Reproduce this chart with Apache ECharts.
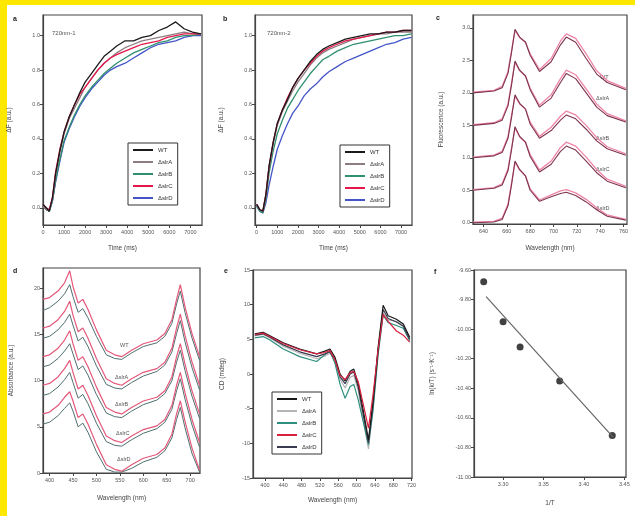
<!DOCTYPE html>
<html><head><meta charset="utf-8">
<script src="https://cdn.jsdelivr.net/npm/echarts@6/dist/echarts.min.js"></script>
<style>html,body{margin:0;padding:0;background:#fff}#c{width:635px;height:516px}</style>
</head><body><div id="c"></div><script>
// ---------- DATA ----------
const names = ['WT', 'ΔslrA', 'ΔslrB', 'ΔslrC', 'ΔslrD'];
// panel a / b : time courses
const timeA = [0,150,300,450,600,800,1000,1250,1500,1750,2000,2300,2600,2900,3200,3500,3900,4300,4700,5100,5500,5900,6300,6700,7100,7500];
const a_WT = [0.02,0.00,-0.02,0.06,0.20,0.33,0.44,0.53,0.60,0.67,0.73,0.78,0.83,0.88,0.91,0.94,0.97,0.97,0.99,1.00,1.03,1.05,1.08,1.04,1.02,1.01];
const a_S1 = [0.01,-0.01,-0.02,0.05,0.19,0.32,0.43,0.52,0.58,0.64,0.70,0.75,0.80,0.84,0.87,0.90,0.93,0.95,0.97,0.98,0.99,1.00,1.01,1.02,1.01,1.01];
const a_S2 = [0.01,-0.01,-0.02,0.04,0.16,0.28,0.39,0.47,0.54,0.60,0.65,0.70,0.74,0.78,0.81,0.84,0.87,0.90,0.92,0.94,0.96,0.97,0.99,1.00,1.00,1.01];
const a_S3 = [0.02,0.00,-0.01,0.06,0.21,0.34,0.44,0.53,0.60,0.66,0.70,0.75,0.80,0.84,0.87,0.89,0.91,0.93,0.95,0.96,0.97,0.99,1.00,1.01,1.01,1.01];
const a_S4 = [0.01,-0.01,-0.02,0.04,0.15,0.27,0.38,0.46,0.53,0.59,0.64,0.69,0.73,0.77,0.80,0.82,0.84,0.87,0.90,0.93,0.95,0.96,0.97,0.99,1.00,1.00];
const b_WT = [0.02,-0.01,-0.02,0.08,0.24,0.38,0.49,0.57,0.63,0.70,0.75,0.80,0.85,0.89,0.92,0.94,0.96,0.98,0.99,1.00,1.01,1.01,1.02,1.02,1.03,1.03];
const b_S1 = [0.02,-0.01,-0.02,0.07,0.23,0.37,0.48,0.56,0.62,0.68,0.73,0.78,0.83,0.87,0.90,0.92,0.94,0.96,0.98,0.99,1.00,1.01,1.01,1.02,1.02,1.02];
const b_S2 = [0.01,-0.02,-0.03,0.05,0.20,0.33,0.43,0.51,0.58,0.63,0.68,0.73,0.78,0.82,0.86,0.88,0.91,0.93,0.95,0.96,0.97,0.98,0.99,1.00,1.00,1.01];
const b_S3 = [0.02,-0.01,-0.02,0.08,0.24,0.38,0.49,0.57,0.64,0.70,0.75,0.80,0.84,0.88,0.91,0.93,0.95,0.97,0.98,0.99,1.00,1.01,1.02,1.02,1.03,1.03];
const b_S4 = [0.01,-0.02,-0.03,0.03,0.13,0.24,0.34,0.42,0.49,0.55,0.59,0.65,0.69,0.72,0.76,0.79,0.82,0.85,0.87,0.89,0.91,0.93,0.95,0.96,0.98,0.99];
const timeTicks = [0,1000,2000,3000,4000,5000,6000,7000];
const abTicksY = [0.0,0.2,0.4,0.6,0.8,1.0];

// panel c : fluorescence emission (stacked)
const wlC = [631,649,656,661,664,667,671,676,680,688,698,706,711,719,728,737,746,762];
const c1d = [2.00,2.03,2.08,2.30,2.62,2.98,2.86,2.78,2.58,2.33,2.48,2.74,2.86,2.78,2.53,2.29,2.16,2.05];
const c1p = [2.01,2.04,2.10,2.33,2.65,2.96,2.85,2.78,2.60,2.36,2.53,2.80,2.91,2.84,2.60,2.34,2.19,2.07];
const c2d = [1.50,1.53,1.58,1.80,2.12,2.49,2.35,2.26,2.05,1.78,1.92,2.16,2.30,2.22,2.00,1.78,1.65,1.55];
const c2p = [1.51,1.54,1.60,1.83,2.15,2.47,2.34,2.26,2.07,1.81,1.97,2.22,2.35,2.28,2.06,1.83,1.68,1.57];
const c3d = [1.00,1.03,1.08,1.30,1.62,1.97,1.84,1.75,1.52,1.30,1.42,1.58,1.66,1.60,1.44,1.26,1.14,1.04];
const c3p = [1.01,1.04,1.10,1.33,1.65,1.95,1.83,1.75,1.55,1.33,1.47,1.64,1.72,1.66,1.50,1.31,1.17,1.06];
const c4d = [0.50,0.53,0.58,0.80,1.12,1.48,1.33,1.24,1.02,0.78,0.90,1.10,1.18,1.12,0.95,0.77,0.64,0.54];
const c4p = [0.51,0.54,0.60,0.83,1.15,1.46,1.32,1.24,1.05,0.81,0.95,1.16,1.24,1.18,1.01,0.82,0.67,0.56];
const c5d = [0.00,0.01,0.05,0.26,0.58,0.95,0.82,0.72,0.50,0.33,0.40,0.45,0.47,0.42,0.32,0.20,0.10,0.04];
const c5p = [0.01,0.02,0.07,0.29,0.61,0.93,0.81,0.72,0.52,0.35,0.43,0.49,0.51,0.46,0.36,0.23,0.12,0.05];
const cTicksX = [640,660,680,700,720,740,760];
const cTicksY = [0.0,0.5,1.0,1.5,2.0,2.5,3.0];

// panel d : absorbance (stacked)
const wlD = [386,400,418,432,443,450,461,471,482,500,521,539,554,575,600,629,646,661,671,679,689,704,720];
const d1p = [18.8,19.0,19.7,20.6,21.9,20.2,18.4,18.8,17.7,15.5,13.3,12.8,12.6,13.3,14.0,14.4,15.1,16.6,18.8,20.4,18.0,15.1,12.6];
const d1d = [17.6,17.9,18.6,19.4,20.4,19.1,17.4,17.8,16.8,14.8,12.8,12.4,12.3,13.0,13.7,14.1,14.8,16.2,18.3,19.7,17.4,14.6,12.2];
const d2p = [15.7,15.9,16.6,17.5,18.6,17.1,15.3,15.7,14.6,12.4,10.2,9.7,9.5,10.2,10.9,11.3,12.0,13.5,15.7,17.2,14.9,12.0,9.5];
const d2d = [14.6,14.8,15.5,16.3,17.2,16.0,14.3,14.7,13.7,11.6,9.6,9.2,9.1,9.8,10.5,11.0,11.7,13.1,15.1,16.5,14.2,11.4,9.0];
const d3p = [12.6,12.8,13.5,14.4,15.4,14.0,12.2,12.6,11.5,9.3,7.1,6.6,6.4,7.1,7.8,8.2,8.9,10.4,12.6,14.0,11.8,8.9,6.4];
const d3d = [11.5,11.7,12.4,13.2,14.0,12.9,11.2,11.6,10.6,8.5,6.5,6.1,6.0,6.7,7.4,7.9,8.6,10.0,12.0,13.3,11.1,8.3,5.9];
const d4p = [9.5,9.7,10.4,11.3,12.2,10.9,9.1,9.5,8.4,6.2,4.0,3.5,3.3,4.0,4.7,5.1,5.8,7.3,9.5,10.9,8.7,5.8,3.3];
const d4d = [8.4,8.6,9.3,10.1,10.9,9.8,8.1,8.5,7.5,5.4,3.4,3.0,2.9,3.6,4.3,4.8,5.5,6.9,8.9,10.2,8.0,5.2,2.8];
const d5p = [6.4,6.6,7.3,8.2,8.8,7.8,6.0,6.4,5.3,3.1,0.9,0.4,0.2,0.9,1.6,2.0,2.7,4.2,6.4,7.8,5.6,2.7,0.3];
const d5d = [5.3,5.5,6.2,7.0,7.6,6.7,5.0,5.4,4.4,2.3,0.4,0.1,0.1,0.5,1.2,1.7,2.4,3.8,5.8,7.1,4.9,2.1,0.1];
const dTicksX = [400,450,500,550,600,650,700];
const dTicksY = [0,5,10,15,20];

// panel e : CD spectra
const wlE = [378,396,411,440,476,513,531,542,553,564,575,586,594,604,615,626,636,647,658,669,687,702,716];
const e_WT = [5.8,6.0,5.5,4.5,3.6,2.9,3.3,3.6,2.4,0.0,-1.0,0.4,0.7,-1.5,-5.4,-9.5,-3.9,3.8,9.9,8.4,7.9,7.2,5.3];
const e_S1 = [5.5,5.7,5.2,4.0,3.0,2.2,2.6,3.0,1.8,-0.8,-2.0,-0.5,-0.2,-2.5,-6.8,-10.8,-5.0,3.0,8.8,7.8,7.6,7.0,5.0];
const e_S2 = [5.2,5.4,4.9,3.6,2.5,1.8,2.8,3.3,1.5,-1.5,-3.5,-1.8,-1.5,-3.8,-7.0,-10.2,-5.2,2.8,8.5,7.4,7.0,6.6,4.8];
const e_S3 = [5.7,5.9,5.4,4.4,3.5,2.9,3.1,3.4,2.0,-0.2,-0.8,0.2,0.4,-1.2,-4.5,-7.8,-3.0,3.5,8.6,7.6,6.2,5.6,4.6];
const e_S4 = [5.6,5.8,5.3,4.2,3.2,2.5,2.9,3.2,2.1,-0.4,-1.4,0.0,0.3,-2.0,-6.0,-9.9,-4.4,3.4,9.3,8.0,7.5,6.9,5.0];
const eTicksX = [400,440,480,520,560,600,640,680,720];
const eTicksY = [-15,-10,-5,0,5,10,15];

// panel f : Arrhenius-type plot
const fX = [3.276,3.300,3.321,3.370,3.435];
const fY = [-9.68,-9.95,-10.12,-10.35,-10.72];
const fitX = [3.279,3.436];
const fitY = [-9.78,-10.73];
const fTicksX = [3.30,3.35,3.40,3.45];
const fTicksY = [-9.6,-9.8,-10.0,-10.2,-10.4,-10.6,-10.8,-11.0];

// ---------- STYLE ----------
const colAB = ['#1a1a1a','#8c7d80','#2f8f6f','#e3174a','#4455c8'];
const colE  = ['#1a1a1a','#b5b5b5','#2f8f7f','#d8203f','#3a3a50'];
const pinkC = '#ee86a4', darkC = '#7e3550';
const pinkD = '#e4587a', darkD = '#4f6f70';
const axCol = '#444', lblCol = '#555';

const zip = (xs, ys) => xs.map((x, i) => [x, ys[i]]);

function mkX(gi, min, max, ticks, name, gap, fmt) {
  return {type:'value', gridIndex:gi, min, max, name, nameLocation:'middle', nameGap:gap,
    nameTextStyle:{fontSize:6.5, color:axCol},
    axisLine:{show:true, onZero:false, lineStyle:{color:axCol, width:1.2}},
    axisTick:{show:true, customValues:ticks, length:3, lineStyle:{color:axCol}},
    axisLabel:{customValues:ticks, fontSize:5.5, color:lblCol, margin:4, formatter:fmt},
    splitLine:{show:false}};
}
function mkY(gi, min, max, ticks, name, gap, fmt) {
  const o = mkX(gi, min, max, ticks, name, gap, fmt);
  o.axisLabel.margin = 3;
  return o;
}
function gridAt(l, t, r, b) {
  return {left:l, top:t, width:r - l, height:b - t, show:true, borderColor:axCol, borderWidth:1.2, backgroundColor:'transparent'};
}
function line(gi, xs, ys, name, color, w) {
  return {type:'line', name, xAxisIndex:gi, yAxisIndex:gi, data:zip(xs, ys), symbol:'none',
    lineStyle:{color, width:w || 1.3}, itemStyle:{color}, silent:true, animation:false};
}
function legendAt(left, top, cols) {
  return {left, top, orient:'vertical', icon:'rect', itemWidth:20, itemHeight:2, itemGap:6,
    padding:[4,5,4,5], borderColor:'#333', borderWidth:1, backgroundColor:'#fff',
    textStyle:{fontSize:6, color:'#333'},
    data:names.map((n, i) => ({name:n, itemStyle:{color:cols[i]}})),
    selectedMode:false};
}
const f1 = v => v.toFixed(1), f2 = v => v.toFixed(2), f0 = v => String(v);

const grids = [
  gridAt(43, 15, 202, 225),   // a
  gridAt(255, 15, 412, 225),  // b
  gridAt(473, 15, 627, 224),  // c
  gridAt(43, 268, 200, 473),  // d
  gridAt(253, 270, 412, 478), // e
  gridAt(474, 270, 626, 477)  // f
];

const xAxes = [
  mkX(0, 0, 7550, timeTicks, 'Time (ms)', 20, f0),
  mkX(1, -80, 7530, timeTicks, 'Time (ms)', 20, f0),
  mkX(2, 631, 763, cTicksX, 'Wavelength (nm)', 21, f0),
  mkX(3, 386, 721, dTicksX, 'Wavelength (nm)', 22, f0),
  mkX(4, 374, 721, eTicksX, 'Wavelength (nm)', 19, f0),
  mkX(5, 3.264, 3.452, fTicksX, '1/T', 23, f2)
];
const yAxes = [
  mkY(0, -0.1, 1.12, abTicksY, 'ΔF (a.u.)', 30, f1),
  mkY(1, -0.1, 1.12, abTicksY, 'ΔF (a.u.)', 30, f1),
  mkY(2, -0.02, 3.2, cTicksY, 'Fluorescence (a.u.)', 28, f1),
  mkY(3, 0, 22.2, dTicksY, 'Absorbance (a.u.)', 28, f0),
  mkY(4, -15, 15, eTicksY, 'CD (mdeg)', 27, f0),
  mkY(5, -11.0, -9.6, fTicksY, 'ln(k/T) (s⁻¹·K⁻¹)', 38, f2)
];

const series = [];
const aSets = [a_WT, a_S1, a_S2, a_S3, a_S4];
const bSets = [b_WT, b_S1, b_S2, b_S3, b_S4];
const eSets = [e_WT, e_S1, e_S2, e_S3, e_S4];
[4,2,1,3,0].forEach(i => series.push(line(0, timeA, aSets[i], names[i], colAB[i], 1.3)));
[4,2,1,3,0].forEach(i => series.push(line(1, timeA, bSets[i], names[i], colAB[i], 1.3)));
[[c1d,c1p],[c2d,c2p],[c3d,c3p],[c4d,c4p],[c5d,c5p]].forEach((g, k) => {
  series.push(line(2, wlC, g[1], 'c-p' + k, pinkC, 1.3));
  series.push(line(2, wlC, g[0], 'c-d' + k, darkC, 1.1));
});
[[d1d,d1p],[d2d,d2p],[d3d,d3p],[d4d,d4p],[d5d,d5p]].forEach((g, k) => {
  series.push(line(3, wlD, g[0], 'd-d' + k, darkD, 1.0));
  series.push(line(3, wlD, g[1], 'd-p' + k, pinkD, 1.2));
});
[1,2,4,0,3].forEach(i => series.push(line(4, wlE, eSets[i], names[i], colE[i], 1.2)));
series.push(line(5, fitX, fitY, 'fit', '#666', 1.2));
series.push({type:'scatter', name:'pts', xAxisIndex:5, yAxisIndex:5, data:zip(fX, fY), symbol:'circle', symbolSize:7,
  itemStyle:{color:'#111'}, silent:true, animation:false});

function txt(x, y, s, size, bold, color) {
  return {type:'text', left:x, top:y, silent:true,
    style:{text:s, fontSize:size || 6, fontWeight:bold ? 'bold' : 'normal', fill:color || '#555', fontFamily:'Liberation Sans, Arial, sans-serif'}};
}
const graphic = [
  {type:'rect', shape:{x:0, y:0, width:635, height:5}, style:{fill:'#FFE800'}, silent:true},
  {type:'rect', shape:{x:0, y:0, width:7, height:516}, style:{fill:'#FFE800'}, silent:true},
  txt(13, 16, 'a', 7, true, '#222'), txt(223, 16, 'b', 7, true, '#222'), txt(436, 15, 'c', 7, true, '#222'),
  txt(13, 268, 'd', 7, true, '#222'), txt(224, 268, 'e', 7, true, '#222'), txt(434, 269, 'f', 7, true, '#222'),
  txt(52, 30, '720nm-1', 6), txt(267, 30, '720nm-2', 6),
  txt(600, 74, names[0], 5.5), txt(596, 95, names[1], 5.5), txt(596, 135, names[2], 5.5), txt(596, 166, names[3], 5.5), txt(596, 205, names[4], 5.5),
  txt(120, 342, names[0], 5.5), txt(115, 374, names[1], 5.5), txt(115, 401, names[2], 5.5), txt(116, 430, names[3], 5.5), txt(117, 456, names[4], 5.5)
];

const chart = echarts.init(document.getElementById('c'), null, {renderer:'canvas'});
chart.setOption({
  backgroundColor:'#fff', animation:false,
  textStyle:{fontFamily:'Liberation Sans, Arial, sans-serif'},
  grid:grids, xAxis:xAxes, yAxis:yAxes,
  legend:[legendAt(128, 143, colAB), legendAt(340, 145, colAB), legendAt(272, 392, colE)],
  series, graphic
});
</script></body></html>
